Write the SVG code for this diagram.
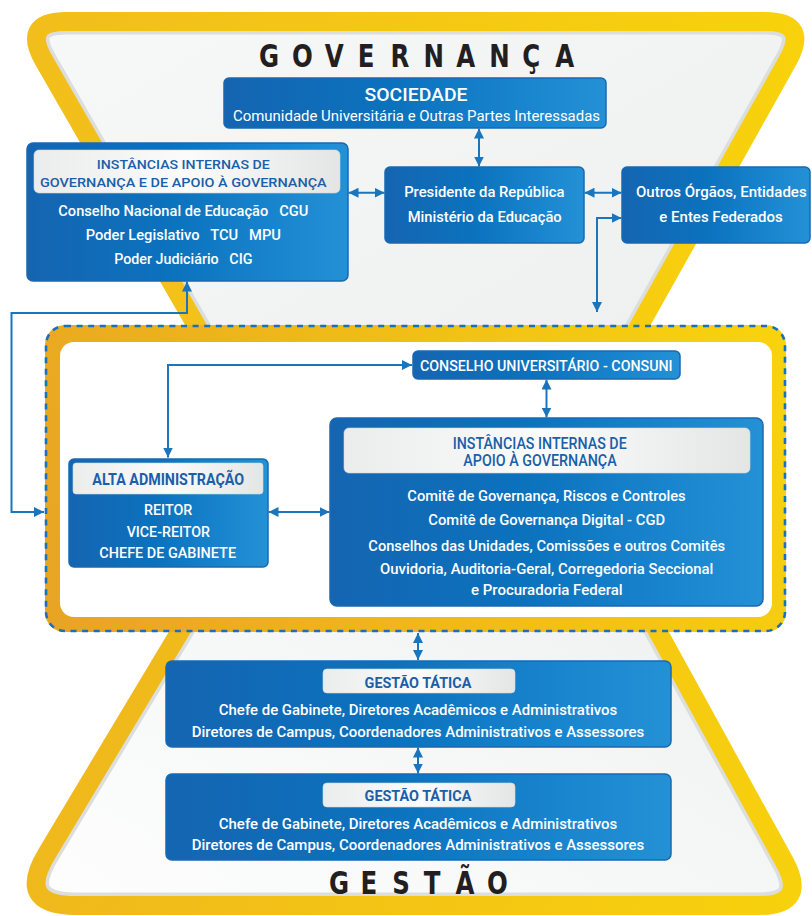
<svg xmlns="http://www.w3.org/2000/svg" xmlns:xlink="http://www.w3.org/1999/xlink" width="812" height="916" viewBox="0 0 812 916">
<defs>
  <linearGradient id="blueGrad" x1="0" y1="0" x2="1" y2="0">
    <stop offset="0" stop-color="#1565b1"/>
    <stop offset="0.45" stop-color="#0b72be"/>
    <stop offset="0.8" stop-color="#1a86cf"/>
    <stop offset="1" stop-color="#2490d5"/>
  </linearGradient>
  <linearGradient id="hdrGrad" x1="0" y1="0" x2="1" y2="0">
    <stop offset="0" stop-color="#ebecec"/>
    <stop offset="0.5" stop-color="#fbfbfb"/>
    <stop offset="1" stop-color="#e4e5e5"/>
  </linearGradient>
  <linearGradient id="yTop" gradientUnits="userSpaceOnUse" x1="0" y1="0" x2="812" y2="0">
    <stop offset="0" stop-color="#f2bd1c"/>
    <stop offset="1" stop-color="#f8d20c"/>
  </linearGradient>
  <linearGradient id="yBot" gradientUnits="userSpaceOnUse" x1="0" y1="600" x2="812" y2="916">
    <stop offset="0" stop-color="#eeb41f"/>
    <stop offset="1" stop-color="#f8d20c"/>
  </linearGradient>
  <linearGradient id="yMid" gradientUnits="userSpaceOnUse" x1="45" y1="632" x2="786" y2="325">
    <stop offset="0" stop-color="#e8a324"/>
    <stop offset="1" stop-color="#f8d40c"/>
  </linearGradient>
  <linearGradient id="grayTop" x1="0" y1="0" x2="1" y2="1">
    <stop offset="0" stop-color="#f7f8f8"/>
    <stop offset="1" stop-color="#eceeee"/>
  </linearGradient>
  <linearGradient id="grayBot" x1="0" y1="1" x2="1" y2="0">
    <stop offset="0" stop-color="#fefefe"/>
    <stop offset="1" stop-color="#eceeee"/>
  </linearGradient>
  <path id="topShape" d="M66.5 21.5 H764.7 Q809.7 21.5 787.7 60.7 L558.5 470 H279.4 L43.9 60.5 Q21.5 21.5 66.5 21.5 Z"/>
  <path id="botShape" d="M271 480 H574.5 L784.4 861.7 Q808.5 905.5 758.5 905.5 H75.7 Q15.7 905.5 46.6 854.1 Z"/>
  <clipPath id="clipTop"><use xlink:href="#topShape"/></clipPath>
  <clipPath id="clipBot"><use xlink:href="#botShape"/></clipPath>
  <marker id="arr" viewBox="0 0 10 10" refX="10" refY="5" markerWidth="10" markerHeight="10" markerUnits="userSpaceOnUse" orient="auto-start-reverse">
    <path d="M0 0 L10 5 L0 10 Z" fill="#1b75bc"/>
  </marker>
  <style>
    .box { fill: url(#blueGrad); stroke: #1a68b2; stroke-width: 1.5; }
    .hdr { fill: url(#hdrGrad); stroke: #d6d8d8; stroke-width: 0.6; }
    .t { font-family: Roboto, 'Liberation Sans', sans-serif; font-weight: 500; fill: #ffffff; text-anchor: middle; }
    .h { fill: #1b5fa8; }
    .b { font-weight: 700; }
    .title { font-family: 'DejaVu Sans Condensed', 'DejaVu Sans', sans-serif; font-stretch: condensed; font-weight: 700; font-size: 32px; fill: #231f20; }
    .conn { fill: none; stroke: #1b75bc; stroke-width: 2; marker-start: url(#arr); marker-end: url(#arr); }
    .rim { fill: none; stroke: #dcdede; stroke-width: 26; }
  </style>
</defs>

<rect width="812" height="916" fill="#ffffff"/>

<g id="background">
  <use xlink:href="#topShape" fill="url(#grayTop)"/>
  <use xlink:href="#topShape" class="rim" clip-path="url(#clipTop)"/>
  <use xlink:href="#topShape" fill="none" stroke="url(#yTop)" stroke-width="19"/>
  <use xlink:href="#botShape" fill="url(#grayBot)"/>
  <use xlink:href="#botShape" class="rim" clip-path="url(#clipBot)"/>
  <use xlink:href="#botShape" fill="none" stroke="url(#yBot)" stroke-width="19"/>
  <text class="title" transform="scale(0.85 1)" x="304.7 343.4 382.1 420.8 459.5 498.2 536.9 575.6 614.4 653.1" y="67">GOVERNANÇA</text>
  <text class="title" transform="scale(0.85 1)" x="387.1 424.2 461.4 498.6 535.8 572.9" y="894">GESTÃO</text>
</g>

<g id="middle-frame">
  <rect x="45" y="325" width="741" height="307" rx="20" fill="url(#yMid)"/>
  <rect x="60" y="342" width="712" height="275" rx="14" fill="#ffffff"/>
  <rect x="46" y="326" width="739" height="305" rx="19" fill="none" stroke="#1b6fb8" stroke-width="2.6" stroke-dasharray="6 5.6"/>
</g>

<g id="sociedade">
  <rect class="box" x="224" y="78" width="382" height="50" rx="5"/>
  <text class="t" x="416" y="100.5" font-size="18" textLength="103" lengthAdjust="spacingAndGlyphs">SOCIEDADE</text>
  <text class="t" x="416.5" y="120.5" font-size="15" style="font-weight:400" textLength="367" lengthAdjust="spacingAndGlyphs">Comunidade Universitária e Outras Partes Interessadas</text>
</g>

<g id="instancias-governanca">
  <rect class="box" x="27" y="143" width="321" height="138" rx="6"/>
  <rect class="hdr" x="34" y="150" width="306" height="43" rx="5"/>
  <text class="t h" x="183.3" y="169" font-size="13.6" textLength="173" lengthAdjust="spacingAndGlyphs">INSTÂNCIAS INTERNAS DE</text>
  <text class="t h" x="183.3" y="187" font-size="13.6" textLength="286.7" lengthAdjust="spacingAndGlyphs">GOVERNANÇA E DE APOIO À GOVERNANÇA</text>
  <text class="t" x="183.3" y="216" font-size="15.5" xml:space="preserve" textLength="250" lengthAdjust="spacingAndGlyphs">Conselho Nacional de Educação   CGU</text>
  <text class="t" x="183.3" y="240" font-size="15.5" xml:space="preserve" textLength="195.3" lengthAdjust="spacingAndGlyphs">Poder Legislativo   TCU   MPU</text>
  <text class="t" x="183.3" y="263.5" font-size="15.5" xml:space="preserve" textLength="138.3" lengthAdjust="spacingAndGlyphs">Poder Judiciário   CIG</text>
</g>

<g id="presidente">
  <rect class="box" x="385" y="167" width="199" height="76" rx="5"/>
  <text class="t" x="484.3" y="197" font-size="15.5" textLength="160.3" lengthAdjust="spacingAndGlyphs">Presidente da República</text>
  <text class="t" x="484.7" y="222" font-size="15.5" textLength="154" lengthAdjust="spacingAndGlyphs">Ministério da Educação</text>
</g>

<g id="outros-orgaos">
  <rect class="box" x="622" y="167" width="188" height="76" rx="5"/>
  <text class="t" x="721.3" y="197" font-size="15.5" textLength="170.7" lengthAdjust="spacingAndGlyphs">Outros Órgãos, Entidades</text>
  <text class="t" x="721" y="222" font-size="15.5" textLength="123.3" lengthAdjust="spacingAndGlyphs">e Entes Federados</text>
</g>

<g id="consuni">
  <rect class="box" x="413" y="351" width="267" height="28" rx="5"/>
  <text class="t" x="546.3" y="371" font-size="15.5" textLength="252.7" lengthAdjust="spacingAndGlyphs">CONSELHO UNIVERSITÁRIO - CONSUNI</text>
</g>

<g id="alta-administracao">
  <rect class="box" x="69" y="459" width="199" height="108" rx="5"/>
  <rect class="hdr" x="73" y="463" width="190" height="31" rx="3"/>
  <text class="t h b" x="168.2" y="485" font-size="16" textLength="151.7" lengthAdjust="spacingAndGlyphs">ALTA ADMINISTRAÇÃO</text>
  <text class="t" x="168.2" y="515" font-size="15" textLength="48.3" lengthAdjust="spacingAndGlyphs">REITOR</text>
  <text class="t" x="168.3" y="537" font-size="15" textLength="83.3" lengthAdjust="spacingAndGlyphs">VICE-REITOR</text>
  <text class="t" x="167.7" y="558.3" font-size="15" textLength="136.7" lengthAdjust="spacingAndGlyphs">CHEFE DE GABINETE</text>
</g>

<g id="instancias-apoio">
  <rect class="box" x="330" y="418" width="433" height="188" rx="7"/>
  <rect class="hdr" x="344" y="428" width="406" height="45" rx="5"/>
  <text class="t h" x="539.7" y="448.5" font-size="16" textLength="174" lengthAdjust="spacingAndGlyphs">INSTÂNCIAS INTERNAS DE</text>
  <text class="t h" x="540" y="466" font-size="16" textLength="153.3" lengthAdjust="spacingAndGlyphs">APOIO À GOVERNANÇA</text>
  <text class="t" x="546.5" y="501" font-size="15.5" textLength="278.3" lengthAdjust="spacingAndGlyphs">Comitê de Governança, Riscos e Controles</text>
  <text class="t" x="546.7" y="525" font-size="15.5" textLength="236.7" lengthAdjust="spacingAndGlyphs">Comitê de Governança Digital - CGD</text>
  <text class="t" x="546.7" y="551" font-size="15.5" textLength="356.7" lengthAdjust="spacingAndGlyphs">Conselhos das Unidades, Comissões e outros Comitês</text>
  <text class="t" x="546.7" y="573.5" font-size="15.5" textLength="333.3" lengthAdjust="spacingAndGlyphs">Ouvidoria, Auditoria-Geral, Corregedoria Seccional</text>
  <text class="t" x="546.8" y="594.5" font-size="15.5" textLength="151.7" lengthAdjust="spacingAndGlyphs">e Procuradoria Federal</text>
</g>

<g id="gestao-tatica-1">
  <rect class="box" x="166" y="661" width="505" height="86" rx="6"/>
  <rect class="hdr" x="323" y="669" width="192" height="24" rx="4"/>
  <text class="t h b" x="418" y="687.5" font-size="15" textLength="106.8" lengthAdjust="spacingAndGlyphs">GESTÃO TÁTICA</text>
  <text class="t" x="418" y="715" font-size="14" textLength="398.4" lengthAdjust="spacingAndGlyphs">Chefe de Gabinete, Diretores Acadêmicos e Administrativos</text>
  <text class="t" x="418" y="737" font-size="14" textLength="452.6" lengthAdjust="spacingAndGlyphs">Diretores de Campus, Coordenadores Administrativos e Assessores</text>
</g>

<g id="gestao-tatica-2">
  <rect class="box" x="166" y="774" width="505" height="86" rx="6"/>
  <rect class="hdr" x="323" y="783" width="192" height="24" rx="4"/>
  <text class="t h b" x="418" y="801" font-size="15" textLength="106.8" lengthAdjust="spacingAndGlyphs">GESTÃO TÁTICA</text>
  <text class="t" x="418" y="828.5" font-size="14" textLength="398.4" lengthAdjust="spacingAndGlyphs">Chefe de Gabinete, Diretores Acadêmicos e Administrativos</text>
  <text class="t" x="418" y="850" font-size="14" textLength="452.6" lengthAdjust="spacingAndGlyphs">Diretores de Campus, Coordenadores Administrativos e Assessores</text>
</g>

<g id="connectors">
  <path class="conn" d="M479 128.5 V166.5"/>
  <path class="conn" d="M348.5 192.7 H384.5"/>
  <path class="conn" d="M584.5 192.7 H621.5"/>
  <path class="conn" d="M597 312 V218 H621.5"/>
  <path class="conn" d="M187 281.5 V313 H11.5 V512 H44"/>
  <path class="conn" d="M168 457.5 V365 H412"/>
  <path class="conn" d="M546.5 379.5 V417.5"/>
  <path class="conn" d="M268.5 512 H329.5"/>
  <path class="conn" d="M418 633 V660"/>
  <path class="conn" d="M418 747.5 V773.5"/>
</g>
</svg>
